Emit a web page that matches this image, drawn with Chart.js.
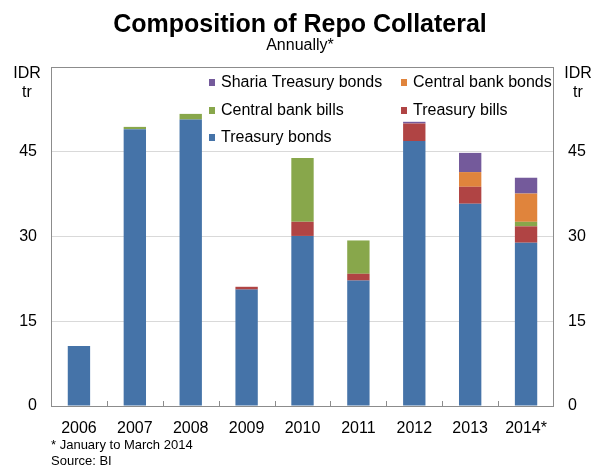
<!DOCTYPE html>
<html>
<head>
<meta charset="utf-8">
<title>Composition of Repo Collateral</title>
<script src="https://cdn.jsdelivr.net/npm/chart.js@4"></script>
<style>
  html, body { margin: 0; padding: 0; background: #fff; }
  #wrap { width: 594px; height: 468px; }
</style>
</head>
<body>
<div id="wrap"><canvas id="chartRepo" width="594" height="468"></canvas></div>
<script>
// Annual data, IDR trillion
const years = ["2006", "2007", "2008", "2009", "2010", "2011", "2012", "2013", "2014*"];
const treasuryBonds = [10.6, 49.0, 50.7, 20.6, 30.1, 22.2, 46.9, 35.8, 28.9];
const treasuryBills = [null, null, null, 0.5, 2.5, 1.2, 3.1, 3.0, 2.9];
const centralBankBills = [null, 0.4, 1.0, null, 11.3, 5.9, null, null, 0.8];
const centralBankBonds = [null, null, null, null, null, null, null, 2.6, 5.0];
const shariaTreasuryBonds = [null, null, null, null, null, null, 0.3, 3.4, 2.8];
const yTicks = [0, 15, 30, 45, 60];

const FONT = "'Liberation Sans', Arial, sans-serif";
const COL = {
    blue: "#4573a8",
    red: "#b04444",
    green: "#88a74b",
    orange: "#e0843c",
    purple: "#745a9b",
    grid: "#d9d9d9",
    frame: "#8c8c8c",
    text: "#000"
};

// legend rows as laid out in two columns inside the plot
const legendItems = [
    { label: "Sharia Treasury bonds", color: COL.purple, col: 0, row: 0 },
    { label: "Central bank bonds", color: COL.orange, col: 1, row: 0 },
    { label: "Central bank bills", color: COL.green, col: 0, row: 1 },
    { label: "Treasury bills", color: COL.red, col: 1, row: 1 },
    { label: "Treasury bonds", color: COL.blue, col: 0, row: 2 }
];

const decorations = {
    id: "decorations",
    beforeDatasetsDraw(chart) {
        const { ctx, chartArea: a } = chart;
        ctx.save();
        ctx.strokeStyle = COL.frame;
        ctx.lineWidth = 1;
        ctx.strokeRect(a.left + 0.5, a.top + 0.5, a.right - a.left - 1, a.bottom - a.top);
        ctx.restore();
    },
    afterDatasetsDraw(chart) {
        const { ctx, chartArea: a, scales } = chart;
        const x = scales.x;
        ctx.save();

        // small category ticks pointing up from the base line
        ctx.strokeStyle = COL.frame;
        ctx.lineWidth = 1;
        for (let i = 1; i < years.length; i++) {
            const px = Math.round((x.getPixelForValue(i - 1) + x.getPixelForValue(i)) / 2) + 0.5;
            ctx.beginPath();
            ctx.moveTo(px, a.bottom);
            ctx.lineTo(px, a.bottom - 5);
            ctx.stroke();
        }

        // title block
        ctx.fillStyle = COL.text;
        ctx.textAlign = "center";
        ctx.textBaseline = "middle";
        ctx.font = "bold 25px " + FONT;
        ctx.fillText("Composition of Repo Collateral", 300, 25);
        ctx.font = "16px " + FONT;
        ctx.fillText("Annually*", 300, 46);

        // unit labels on both sides
        ctx.fillText("IDR", 27, 74);
        ctx.fillText("tr", 27, 93);
        ctx.fillText("IDR", 578, 74);
        ctx.fillText("tr", 578, 93);

        // legend
        ctx.textAlign = "left";
        const colX = [209, 401];
        const rowY = [82, 110, 137];
        legendItems.forEach(item => {
            const lx = colX[item.col];
            const ly = rowY[item.row];
            ctx.fillStyle = item.color;
            ctx.fillRect(lx, ly - 3, 6, 7);
            ctx.fillStyle = COL.text;
            ctx.fillText(item.label, lx + 12, ly + 1);
        });

        // footnotes
        ctx.font = "13px " + FONT;
        ctx.fillText("* January to March 2014", 51, 445);
        ctx.fillText("Source: BI", 51, 461);
        ctx.restore();
    }
};

const mkSet = (label, data, color) => ({
    label,
    data,
    backgroundColor: color,
    borderWidth: 0,
    barPercentage: 0.4,
    categoryPercentage: 1.0
});

const ctx = document.getElementById("chartRepo").getContext("2d");

new Chart(ctx, {
    type: "bar",
    data: {
        labels: years,
        datasets: [
            mkSet("Treasury bonds", treasuryBonds, COL.blue),
            mkSet("Treasury bills", treasuryBills, COL.red),
            mkSet("Central bank bills", centralBankBills, COL.green),
            mkSet("Central bank bonds", centralBankBonds, COL.orange),
            mkSet("Sharia Treasury bonds", shariaTreasuryBonds, COL.purple)
        ]
    },
    options: {
        responsive: false,
        animation: false,
        layout: { padding: { top: 67, left: 0, right: 0, bottom: 0 } },
        plugins: {
            legend: { display: false },
            tooltip: { enabled: false }
        },
        scales: {
            x: {
                stacked: true,
                grid: { display: false, drawTicks: false },
                border: { display: false },
                ticks: { color: COL.text, font: { family: FONT, size: 16 }, padding: 13, maxRotation: 0 },
                afterFit: s => { s.height = 62; }
            },
            y: {
                stacked: true,
                position: "left",
                min: 0,
                max: 60,
                afterBuildTicks: s => { s.ticks = yTicks.map(v => ({ value: v })); },
                grid: {
                    color: ctx => (ctx.tick && ctx.tick.value > 0 && ctx.tick.value < 60) ? COL.grid : "rgba(0,0,0,0)",
                    drawTicks: false
                },
                border: { display: false },
                ticks: {
                    color: COL.text,
                    font: { family: FONT, size: 16 },
                    padding: 14,
                    callback: v => (v === 60 ? "" : v)
                },
                afterFit: s => { s.width = 51; }
            },
            y2: {
                position: "right",
                min: 0,
                max: 60,
                afterBuildTicks: s => { s.ticks = yTicks.map(v => ({ value: v })); },
                grid: { display: false, drawTicks: false },
                border: { display: false },
                ticks: {
                    color: COL.text,
                    font: { family: FONT, size: 16 },
                    padding: 14,
                    callback: v => (v === 60 ? "" : v)
                },
                afterFit: s => { s.width = 40; }
            }
        }
    },
    plugins: [decorations]
});
</script>
</body>
</html>
